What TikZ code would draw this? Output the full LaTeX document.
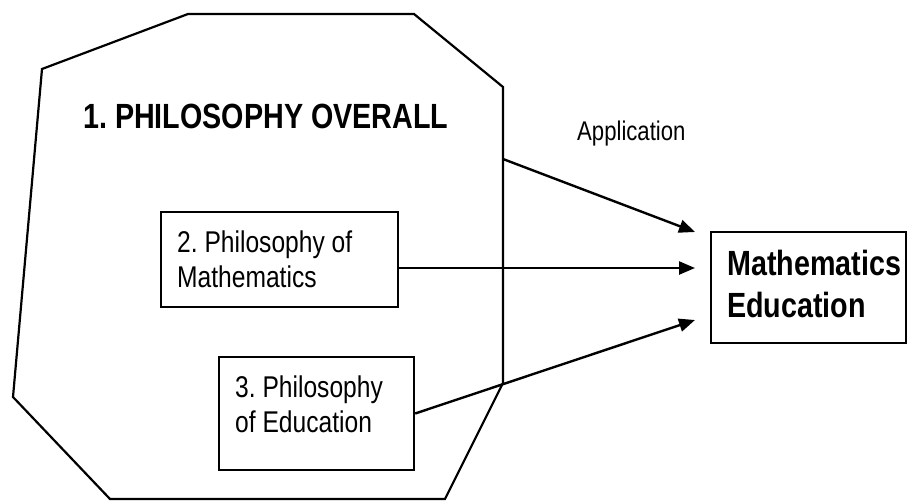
\documentclass[tikz,border=0pt]{standalone}
\usepackage{fontspec}
\newfontfamily\arsans[FakeStretch=0.82]{Liberation Sans}
\usetikzlibrary{arrows.meta}
\frenchspacing
\begin{document}
\begin{tikzpicture}[x=1pt,y=-1pt,
  outline/.style={line width=2.2pt, line join=miter},
  boxnode/.style={draw, line width=2.4pt, minimum width=#1, inner sep=0pt},
  txt/.style={anchor=base west, inner sep=0pt, font=\arsans\fontsize{30}{35}\selectfont},
  bigtxt/.style={anchor=base west, inner sep=0pt, font=\arsans\bfseries\fontsize{35}{42}\selectfont},
  arr/.style={line width=2.4pt, -{Triangle[length=16pt,width=13pt]}}]
\useasboundingbox (0,0) rectangle (909,501);
% octagon
\coordinate (A) at (188,14);
\coordinate (B) at (414,14);
\coordinate (C) at (503,87);
\coordinate (D) at (503,383);
\coordinate (E) at (445,499);
\coordinate (F) at (110,499);
\coordinate (G) at (13,397);
\coordinate (H) at (42,69);
\draw[outline] (A) -- (B) -- (C) -- (D) -- (E) -- (F) -- (G) -- (H) -- cycle;
\node[bigtxt] (title) at (83,128) {1. PHILOSOPHY OVERALL};
% boxes
\node[boxnode=237pt, minimum height=95pt] (b2) at (279.5,259.5) {};
\node[txt] (t2a) at (177,252) {2. Philosophy of};
\node[txt] (t2b) at (177,287) {Mathematics};
\node[boxnode=195pt, minimum height=113pt] (b3) at (316.5,413.5) {};
\node[txt] (t3a) at (235,397) {3. Philosophy};
\node[txt] (t3b) at (235,432) {of Education};
\node[boxnode=195pt, minimum height=111pt] (me) at (808.5,287.5) {};
\node[bigtxt] (mea) at (727,275) {Mathematics};
\node[bigtxt] (meb) at (727,317) {Education};
\node[anchor=base west, inner sep=0pt, font=\arsans\fontsize{27}{32}\selectfont] (app) at (577,140) {Application};
% arrows
\coordinate (o1) at (503,159);
\coordinate (t1) at (695,232);
\coordinate (t2) at (695,268);
\coordinate (t3) at (695,320);
\draw[arr] (o1) -- (t1);
\draw[arr] (b2.east |- t2) -- (t2);
\draw[arr] (b3.east) -- (t3);
\end{tikzpicture}
\end{document}
